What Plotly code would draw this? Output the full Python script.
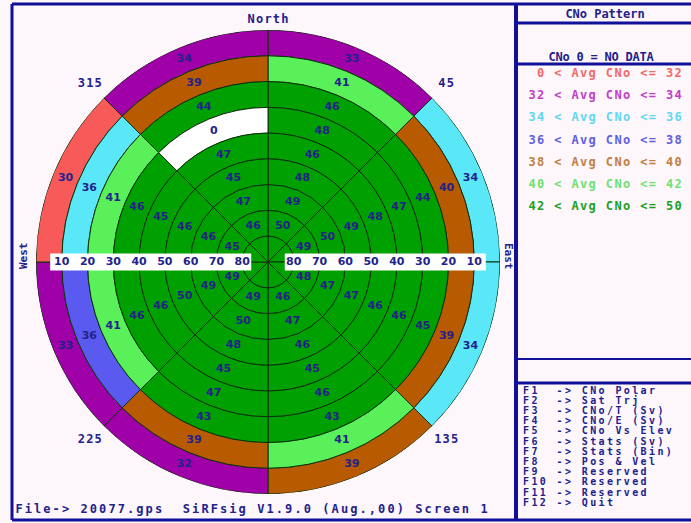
import plotly.graph_objects as go

W, H = 691, 523

# ---------------------------------------------------------------- data ----
AZIMUTHS = [0, 45, 90, 135, 180, 225, 270, 315]        # sector start, deg
ELEVATIONS = [0, 10, 20, 30, 40, 50, 60, 70, 80]        # band start, deg
SECTOR_WIDTH = 45
BAND_HEIGHT = 10

# rounded average C/No (dB-Hz) per elevation band (rows) and azimuth sector
CNO_AVG = [
    [33, 34, 34, 39, 32, 33, 30, 34],
    [41, 40, 39, 41, 39, 36, 36, 39],
    [46, 44, 45, 43, 43, 41, 41, 44],
    [48, 47, 46, 46, 47, 46, 46, 0],
    [46, 48, 46, 45, 45, 46, 45, 47],
    [48, 49, 47, 46, 48, 50, 46, 45],
    [49, 50, 47, 47, 50, 49, 46, 47],
    [50, 49, 48, 46, 49, 49, 45, 46],
    [None, None, None, None, None, None, None, None],
]
# colour class of each cell (0 = no data, 1..7 = legend bands),
# taken from the unrounded average
CNO_CLASS = [
    [2, 3, 3, 5, 2, 2, 1, 2],
    [6, 5, 5, 6, 5, 4, 3, 5],
    [7, 7, 7, 7, 7, 6, 6, 7],
    [7, 7, 7, 7, 7, 7, 7, 0],
    [7, 7, 7, 7, 7, 7, 7, 7],
    [7, 7, 7, 7, 7, 7, 7, 7],
    [7, 7, 7, 7, 7, 7, 7, 7],
    [7, 7, 7, 7, 7, 7, 7, 7],
    [7, 7, 7, 7, 7, 7, 7, 7],
]
BAND_LIMITS = [0, 32, 34, 36, 38, 40, 42, 50]
CLASS_FILL = ["#ffffff", "#f85a5a", "#a000a8", "#5ae8f8",
              "#5a5af0", "#b85a00", "#5af05a", "#00a000"]
CLASS_TEXT = ["#22228a", "#f06a6a", "#c040c8", "#60d8f0",
              "#6060e0", "#c08040", "#70e070", "#20a020"]
ELEV_TICKS = [10, 20, 30, 40, 50, 60, 70, 80]
COMPASS = [("North", 0), ("45", 45), ("135", 135), ("225", 225), ("315", 315)]
FKEYS = [("F1", "CNo Polar"), ("F2", "Sat Trj"), ("F3", "CNo/T (Sv)"),
         ("F4", "CNo/E (Sv)"), ("F5", "CNo Vs Elev"), ("F6", "Stats (Sv)"),
         ("F7", "Stats (Bin)"), ("F8", "Pos & Vel"), ("F9", "Reserved"),
         ("F10", "Reserved"), ("F11", "Reserved"), ("F12", "Quit")]
TITLE = "CNo Pattern"
NO_DATA_NOTE = "CNo 0 = NO DATA"
STATUS_LINE = "File-> 20077.gps  SiRFsig V1.9.0 (Aug.,00) Screen 1"

# --------------------------------------------------------------- style ----
BG = "#fdf6fb"
NAVY = "#22228a"
FRAME = "#10109a"
GRID = "#0c300c"
CX, CY, RPX = 268, 262, 232          # polar centre / radius in pixels
RMAX = 90

fig = go.Figure()

# sky-plot cells: one wedge per (elevation band, azimuth sector)
r_base, r_len, th, fills = [], [], [], []
for i, elev in enumerate(ELEVATIONS):
    for j, az in enumerate(AZIMUTHS):
        r_base.append(RMAX - elev - BAND_HEIGHT)
        r_len.append(BAND_HEIGHT)
        th.append(az + SECTOR_WIDTH / 2)
        fills.append(CLASS_FILL[CNO_CLASS[i][j]])
fig.add_trace(go.Barpolar(
    r=r_len, base=r_base, theta=th, width=SECTOR_WIDTH,
    marker=dict(color=fills, line=dict(color=GRID, width=1)),
    hoverinfo="skip", showlegend=False))

# cell value labels
lr, lt, ltxt = [], [], []
for i, elev in enumerate(ELEVATIONS):
    for j, az in enumerate(AZIMUTHS):
        v = CNO_AVG[i][j]
        if v is None:
            continue
        lr.append(RMAX - elev - BAND_HEIGHT / 2)
        lt.append(az + SECTOR_WIDTH / 2)
        ltxt.append(str(v))
fig.add_trace(go.Scatterpolar(
    r=lr, theta=lt, text=ltxt, mode="text",
    textfont=dict(family="DejaVu Sans", size=11, color=NAVY, weight="bold"),
    hoverinfo="skip", showlegend=False, cliponaxis=False))

# elevation scale strips along the East-West line
strip_in, strip_out = 6.5, 84.5
fig.add_trace(go.Scatterpolar(
    r=[strip_in, strip_out, None, strip_in, strip_out],
    theta=[270, 270, None, 90, 90], mode="lines",
    line=dict(color="#ffffff", width=17), connectgaps=False,
    hoverinfo="skip", showlegend=False))
sr, st, stxt = [], [], []
for side in (270, 90):
    for e in ELEV_TICKS:
        sr.append(RMAX - e)
        st.append(side)
        stxt.append(str(e))
fig.add_trace(go.Scatterpolar(
    r=sr, theta=st, text=stxt, mode="text",
    textfont=dict(family="DejaVu Sans", size=11, color=NAVY, weight="bold"),
    hoverinfo="skip", showlegend=False, cliponaxis=False))


# -------------------------------------------- fixed-pitch screen text ----
def glyphs(text, x_first, y, pitch):
    xs, ys, cs = [], [], []
    for k, ch in enumerate(text):
        if ch != " ":
            xs.append(x_first + k * pitch)
            ys.append(y)
            cs.append(ch)
    return xs, ys, cs


def centred(text, xc, y, pitch):
    return glyphs(text, xc - (len(text) - 1) * pitch / 2, y, pitch)


def add_text(parts, color, size=12):
    xs, ys, cs = [], [], []
    for p in parts:
        xs += p[0]
        ys += p[1]
        cs += p[2]
    fig.add_trace(go.Scatter(
        x=xs, y=ys, text=cs, mode="text", xaxis="x", yaxis="y",
        textfont=dict(family="DejaVu Sans Mono", size=size, color=color,
                      weight="bold"),
        hoverinfo="skip", showlegend=False, cliponaxis=False))


import math
navy_parts = []
for name, bearing in COMPASS:
    rad = 242 if name == "North" else 252
    b = math.radians(bearing)
    navy_parts.append(centred(name, CX + rad * math.sin(b),
                              CY - rad * math.cos(b), 8.4))
navy_parts.append(centred(TITLE, 605, 15, 7.2))
navy_parts.append(centred(NO_DATA_NOTE, 601, 58, 7.0))
navy_parts.append(glyphs(STATUS_LINE, 19, 510, 9.3))
add_text(navy_parts, NAVY)

fkey_parts = []
for k, (key, label) in enumerate(FKEYS):
    fkey_parts.append(glyphs(f"{key:<4}-> {label}", 526, 391 + k * 10.2, 8.4))
add_text(fkey_parts, NAVY, size=10)

for b in range(1, len(BAND_LIMITS)):
    row = f"{BAND_LIMITS[b-1]:>2} < Avg CNo <= {BAND_LIMITS[b]}"
    add_text([glyphs(row, 532, 74 + (b - 1) * 22.2, 8.6)], CLASS_TEXT[b])

# rotated side labels
for txt, x, ang in (("West", 23, -90), ("East", 509, 90)):
    fig.add_annotation(x=x, y=CY - 6, xref="x", yref="y", text=txt,
                       textangle=ang, showarrow=False,
                       font=dict(family="DejaVu Sans Mono", size=11,
                                 color=NAVY, weight="bold"))

# screen frame and panel rules
def hline(y, x0, x1, w=3):
    fig.add_shape(type="line", x0=x0, x1=x1, y0=y, y1=y, xref="x", yref="y",
                  line=dict(color=FRAME, width=w), layer="below")


def vline(x, y0, y1, w=3):
    fig.add_shape(type="line", x0=x, x1=x, y0=y0, y1=y1, xref="x", yref="y",
                  line=dict(color=FRAME, width=w), layer="below")


hline(4, 12, W)
hline(520, 12, W)
vline(12, 4, 520)
vline(516, 4, 520, 4)
hline(23, 516, W)
hline(64, 516, W)
hline(359, 516, W, 2)
hline(383, 516, W)

fig.update_layout(
    width=W, height=H, autosize=False,
    margin=dict(l=0, r=0, t=0, b=0),
    paper_bgcolor=BG, plot_bgcolor="rgba(0,0,0,0)",
    showlegend=False, hovermode=False,
    xaxis=dict(range=[0, W], domain=[0, 1], visible=False, fixedrange=True),
    yaxis=dict(range=[H, 0], domain=[0, 1], visible=False, fixedrange=True),
    polar=dict(
        domain=dict(x=[(CX - RPX) / W, (CX + RPX) / W],
                    y=[(H - CY - RPX) / H, (H - CY + RPX) / H]),
        bgcolor="rgba(0,0,0,0)", bargap=0,
        radialaxis=dict(range=[0, RMAX], visible=False),
        angularaxis=dict(rotation=90, direction="clockwise",
                         showgrid=False, showline=False,
                         showticklabels=False, ticks=""),
    ),
)

fig.write_html("out.html")
